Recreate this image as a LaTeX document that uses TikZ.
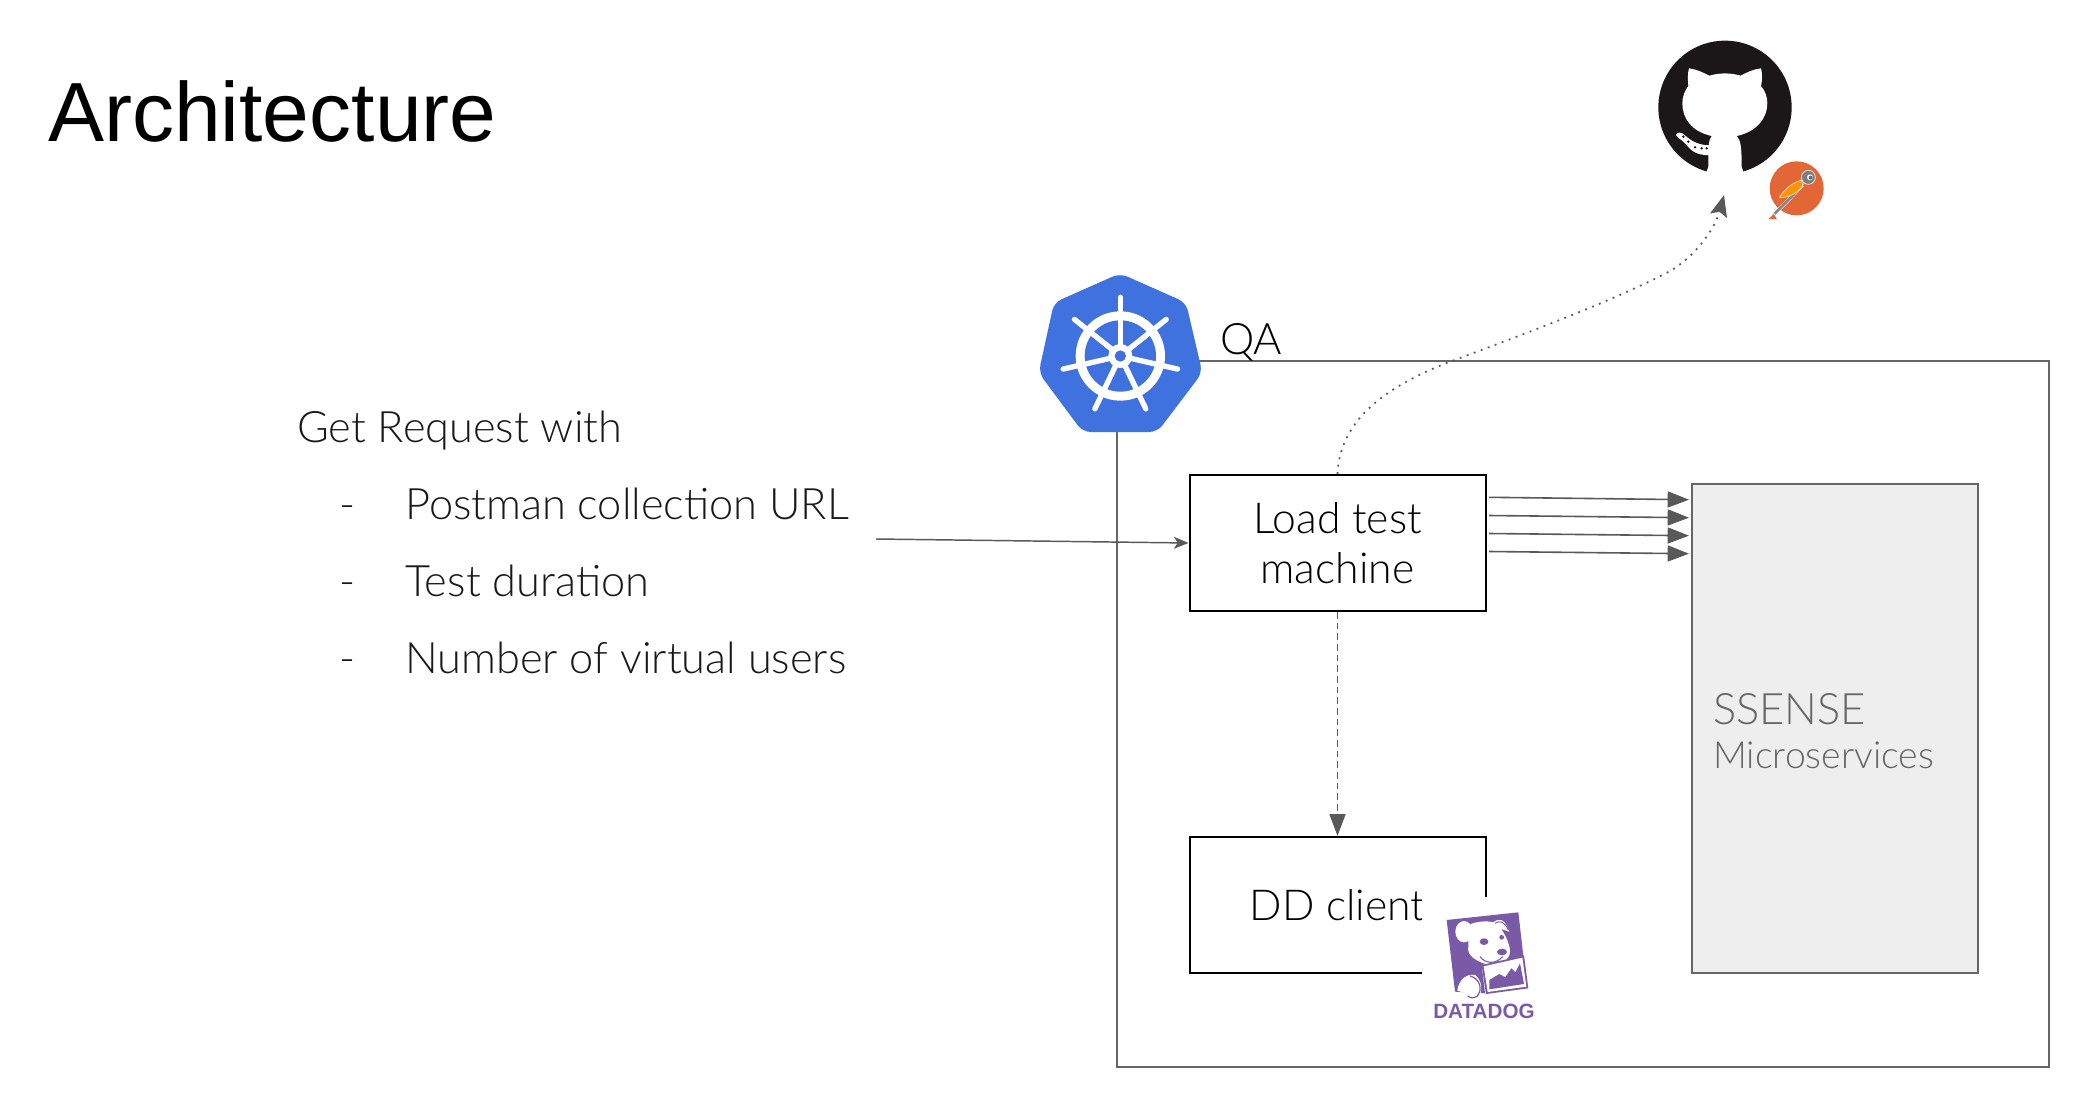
\documentclass[tikz,border=0pt]{standalone}
\usepackage{fontspec}
\setmainfont{Lato}[UprightFont=* Light]
\newfontfamily\titlefont{Liberation Sans}
\newfontfamily\ddfont{Liberation Sans}[BoldFont=* Bold]
\usetikzlibrary{arrows.meta,calc}
\definecolor{linegray}{HTML}{666666}
\definecolor{arrowgray}{HTML}{595959}
\definecolor{kubeblue}{HTML}{3F71DF}
\definecolor{ghblack}{HTML}{1B1718}
\definecolor{pmorange}{HTML}{E26636}
\definecolor{ddpurple}{HTML}{7A5AA6}
\definecolor{panelfill}{HTML}{EEEEEE}
\tikzset{
  blackbox/.style={draw=black,line width=1.5pt,minimum width=222pt,minimum height=102pt,inner sep=0pt,align=center,font=\fontsize{32}{38}\selectfont},
  bodytext/.style={anchor=base west,inner sep=0pt,text=black!90,font=\fontsize{32.5}{38}\selectfont},
  grayarrow/.style={draw=arrowgray,line width=1.3pt,-{Stealth[length=16.5pt,width=12pt,inset=0pt]}},
  thinarrow/.style={draw=arrowgray,line width=1.1pt,-{Stealth[length=11pt,width=9pt,inset=3pt]}},
}
\begin{document}
\begin{tikzpicture}[x=.75pt,y=-.75pt]
\useasboundingbox (0,0) rectangle (2082,1102);
\fill[white] (0,0) rectangle (2082,1102);
% title
\node[anchor=base west,inner sep=0pt,font=\titlefont\fontsize{63}{70}\selectfont] (title) at (48,142) {Architecture};
% QA frame
\node[draw=linegray,line width=1.5pt,minimum width=699pt,minimum height=529.5pt,inner sep=0pt,anchor=north west] (qa) at (1115.5,360) {};
% ssense
\node[draw=linegray,fill=panelfill,line width=1.5pt,minimum width=215pt,minimum height=366.5pt,inner sep=0pt,anchor=north west] (ssense) at (1690.5,483) {};
\node[anchor=base west,inner sep=0pt,text=linegray,font=\fontsize{32.5}{38}\selectfont] (ssensea) at (1713,724) {SSENSE};
\node[anchor=base west,inner sep=0pt,text=linegray,font=\fontsize{28}{34}\selectfont] (ssenseb) at (1713,768) {Microservices};
% boxes
\node[blackbox,anchor=north west] (load) at (1188.5,474) {Load test\\[0pt]machine};
\node[blackbox,anchor=north west] (dd) at (1188.5,836) {DD client};
% left text
\node[bodytext] (req) at (297,442) {Get Request with};
\node[bodytext] (d1) at (339,519) {-};
\node[bodytext] (p1) at (405,519) {Postman collection URL};
\node[bodytext] (d2) at (339,596) {-};
\node[bodytext] (p2) at (405,596) {Test duration};
\node[bodytext] (d3) at (339,673) {-};
\node[bodytext] (p3) at (405,673) {Number of virtual users};
% connectors
\coordinate (reqend) at (876,539);
\draw[thinarrow] (reqend) -- (load.west);
\draw[grayarrow,dashed,dash pattern=on 5pt off 3pt] (load.south) -- (dd.north);
\foreach \i/\ya/\yb in {a/497.3/499.7,b/515.5/517.7,c/533.5/535.7,d/551.5/553.7}{
  \coordinate (s\i) at (1489,\ya);
  \coordinate (e\i) at (1689,\yb);
  \draw[draw=arrowgray,line width=1.2pt,-{Stealth[length=16pt,width=12pt,inset=0pt]}] (s\i) -- (e\i);
}
\coordinate (ghtip) at (1724,195);
\draw[draw=arrowgray,line width=1.3pt,dash pattern=on 1.4pt off 4.2pt,-{Stealth[length=16pt,width=13pt,inset=3pt,sep=0pt]}]
  (load.north) .. controls (1340,420) and (1385,385) .. (1460,358)
  .. controls (1530,332) and (1620,298) .. (1672,270)
  .. controls (1700,252) and (1716,225) .. (ghtip);
% kubernetes logo
\begin{scope}[shift={(1020,260)},x=.25pt,y=-.25pt]
\fill[kubeblue,rounded corners=6pt] (300,40) -- (498,128) -- (547,338) -- (412,516) -- (188,516) -- (56,338) -- (102,128) -- cycle;
\begin{scope}[shift={(301,288)}]
\fill[white] (0,0) circle[radius=134];
\fill[kubeblue] (0,0) circle[radius=107];
\foreach \k in {0,...,6}{
  \pgfmathsetmacro{\ang}{-90+\k*51.4286}
  \draw[white,line width=4pt,line cap=round] (0,0) -- (\ang:176);
}
\fill[white] (0,0) circle[radius=36];
\fill[kubeblue] (0,0) circle[radius=17];
\end{scope}
\end{scope}
\node[anchor=base west,inner sep=0pt,font=\fontsize{32.5}{38}\selectfont] (qalabel) at (1220,354) {QA};
% github logo
\begin{scope}[shift={(1620,20)},x=.25pt,y=-.25pt]
\fill[ghblack] (315,262) circle[radius=200];
\fill[white] (275,348) .. controls (215,335) and (187,295) .. (187,250)
  .. controls (187,228) and (195,212) .. (205,198)
  .. controls (203,175) and (203,160) .. (207,145)
  .. controls (230,148) and (250,158) .. (268,167)
  .. controls (300,158) and (330,158) .. (362,167)
  .. controls (380,157) and (400,148) .. (423,145)
  .. controls (427,160) and (427,180) .. (423,198)
  .. controls (435,212) and (442,230) .. (442,250)
  .. controls (442,295) and (410,335) .. (350,348)
  .. controls (362,360) and (365,380) .. (365,440)
  -- (375,470) -- (255,470) -- (265,440)
  .. controls (265,380) and (265,360) .. (275,348) -- cycle;
\fill[white] (168,345) .. controls (172,336) and (182,336) .. (190,342)
  .. controls (205,355) and (225,375) .. (268,376) -- (268,406)
  .. controls (225,405) and (212,390) .. (197,372)
  .. controls (188,362) and (175,355) .. (168,345) -- cycle;
\foreach \dx/\dy in {190/350,205/365,225/382,245/385,260/385}{
  \fill[ghblack] (\dx,\dy) circle[radius=4];
}
% postman
\fill[pmorange] (530,505) circle[radius=81];
\draw[white,line width=2.6pt,line cap=round] (548,495) -- (510,535) -- (460,585);
\draw[linegray!80,line width=2pt,line cap=round] (548,495) -- (510,535) -- (460,585);
\fill[pmorange,draw=white,line width=.4pt] (443,598) -- (462,580) -- (472,598) -- cycle;
\fill[orange!85!yellow,draw=white,line width=.4pt] (478,532) .. controls (495,505) and (520,487) .. (545,480) -- (548,498) .. controls (530,520) and (505,535) .. (478,532) -- cycle;
\fill[linegray!85,draw=white,line width=.5pt] (565,472) circle[radius=21];
\fill[white] (570,472) circle[radius=9];
\fill[linegray] (572,473) circle[radius=6];
\end{scope}
% datadog logo
\begin{scope}[shift={(1400,880)},x=.25pt,y=-.25pt]
\fill[white] (65,50) rectangle (430,440);
\fill[ddpurple] (140,120) -- (355,97) -- (370,228) -- (245,255) -- (255,340) -- (165,335) -- cycle;
% ears and head
\fill[white] (192,155) ellipse[x radius=26,y radius=32];
\fill[white] (212,132) .. controls (240,122) and (270,122) .. (290,130)
  .. controls (310,150) and (330,190) .. (330,215)
  .. controls (330,245) and (285,262) .. (250,250)
  .. controls (225,240) and (200,225) .. (205,200)
  .. controls (205,175) and (205,150) .. (212,132) -- cycle;
\fill[white] (280,128) .. controls (295,112) and (315,115) .. (328,155)
  .. controls (310,150) and (295,145) .. (280,128) -- cycle;
\draw[ddpurple,line width=.7pt] (285,130) .. controls (298,120) and (315,125) .. (325,150);
\fill[ddpurple] (252,185) ellipse[x radius=13,y radius=10];
\fill[ddpurple] (305,172) ellipse[x radius=7,y radius=7];
\fill[ddpurple] (306,216) ellipse[x radius=15,y radius=10];
\draw[ddpurple,line width=.8pt] (240,230) .. controls (255,250) and (285,255) .. (308,230);
% arm
\fill[white] (172,332) .. controls (175,300) and (200,280) .. (225,285)
  .. controls (245,300) and (250,330) .. (235,355)
  .. controls (220,358) and (205,350) .. (200,340) -- cycle;
\draw[ddpurple,line width=.9pt] (210,288) .. controls (240,295) and (250,330) .. (230,350) .. controls (222,355) and (212,355) .. (203,348);
% chart
\fill[ddpurple] (245,255) -- (372,226) -- (385,325) -- (258,342) -- cycle;
\fill[white] (251,259) -- (367,233) -- (379,320) -- (263,336) -- cycle;
\fill[ddpurple] (268,328) -- (268,300) -- (298,282) -- (316,292) -- (334,265) -- (346,277) -- (360,250) -- (372,312) -- cycle;
\end{scope}
\node[anchor=base west,inner sep=0pt,text=ddpurple,font=\ddfont\bfseries\fontsize{15.5}{18}\selectfont] (ddlabel) at (1433,1018) {DATADOG};
\end{tikzpicture}
\end{document}
